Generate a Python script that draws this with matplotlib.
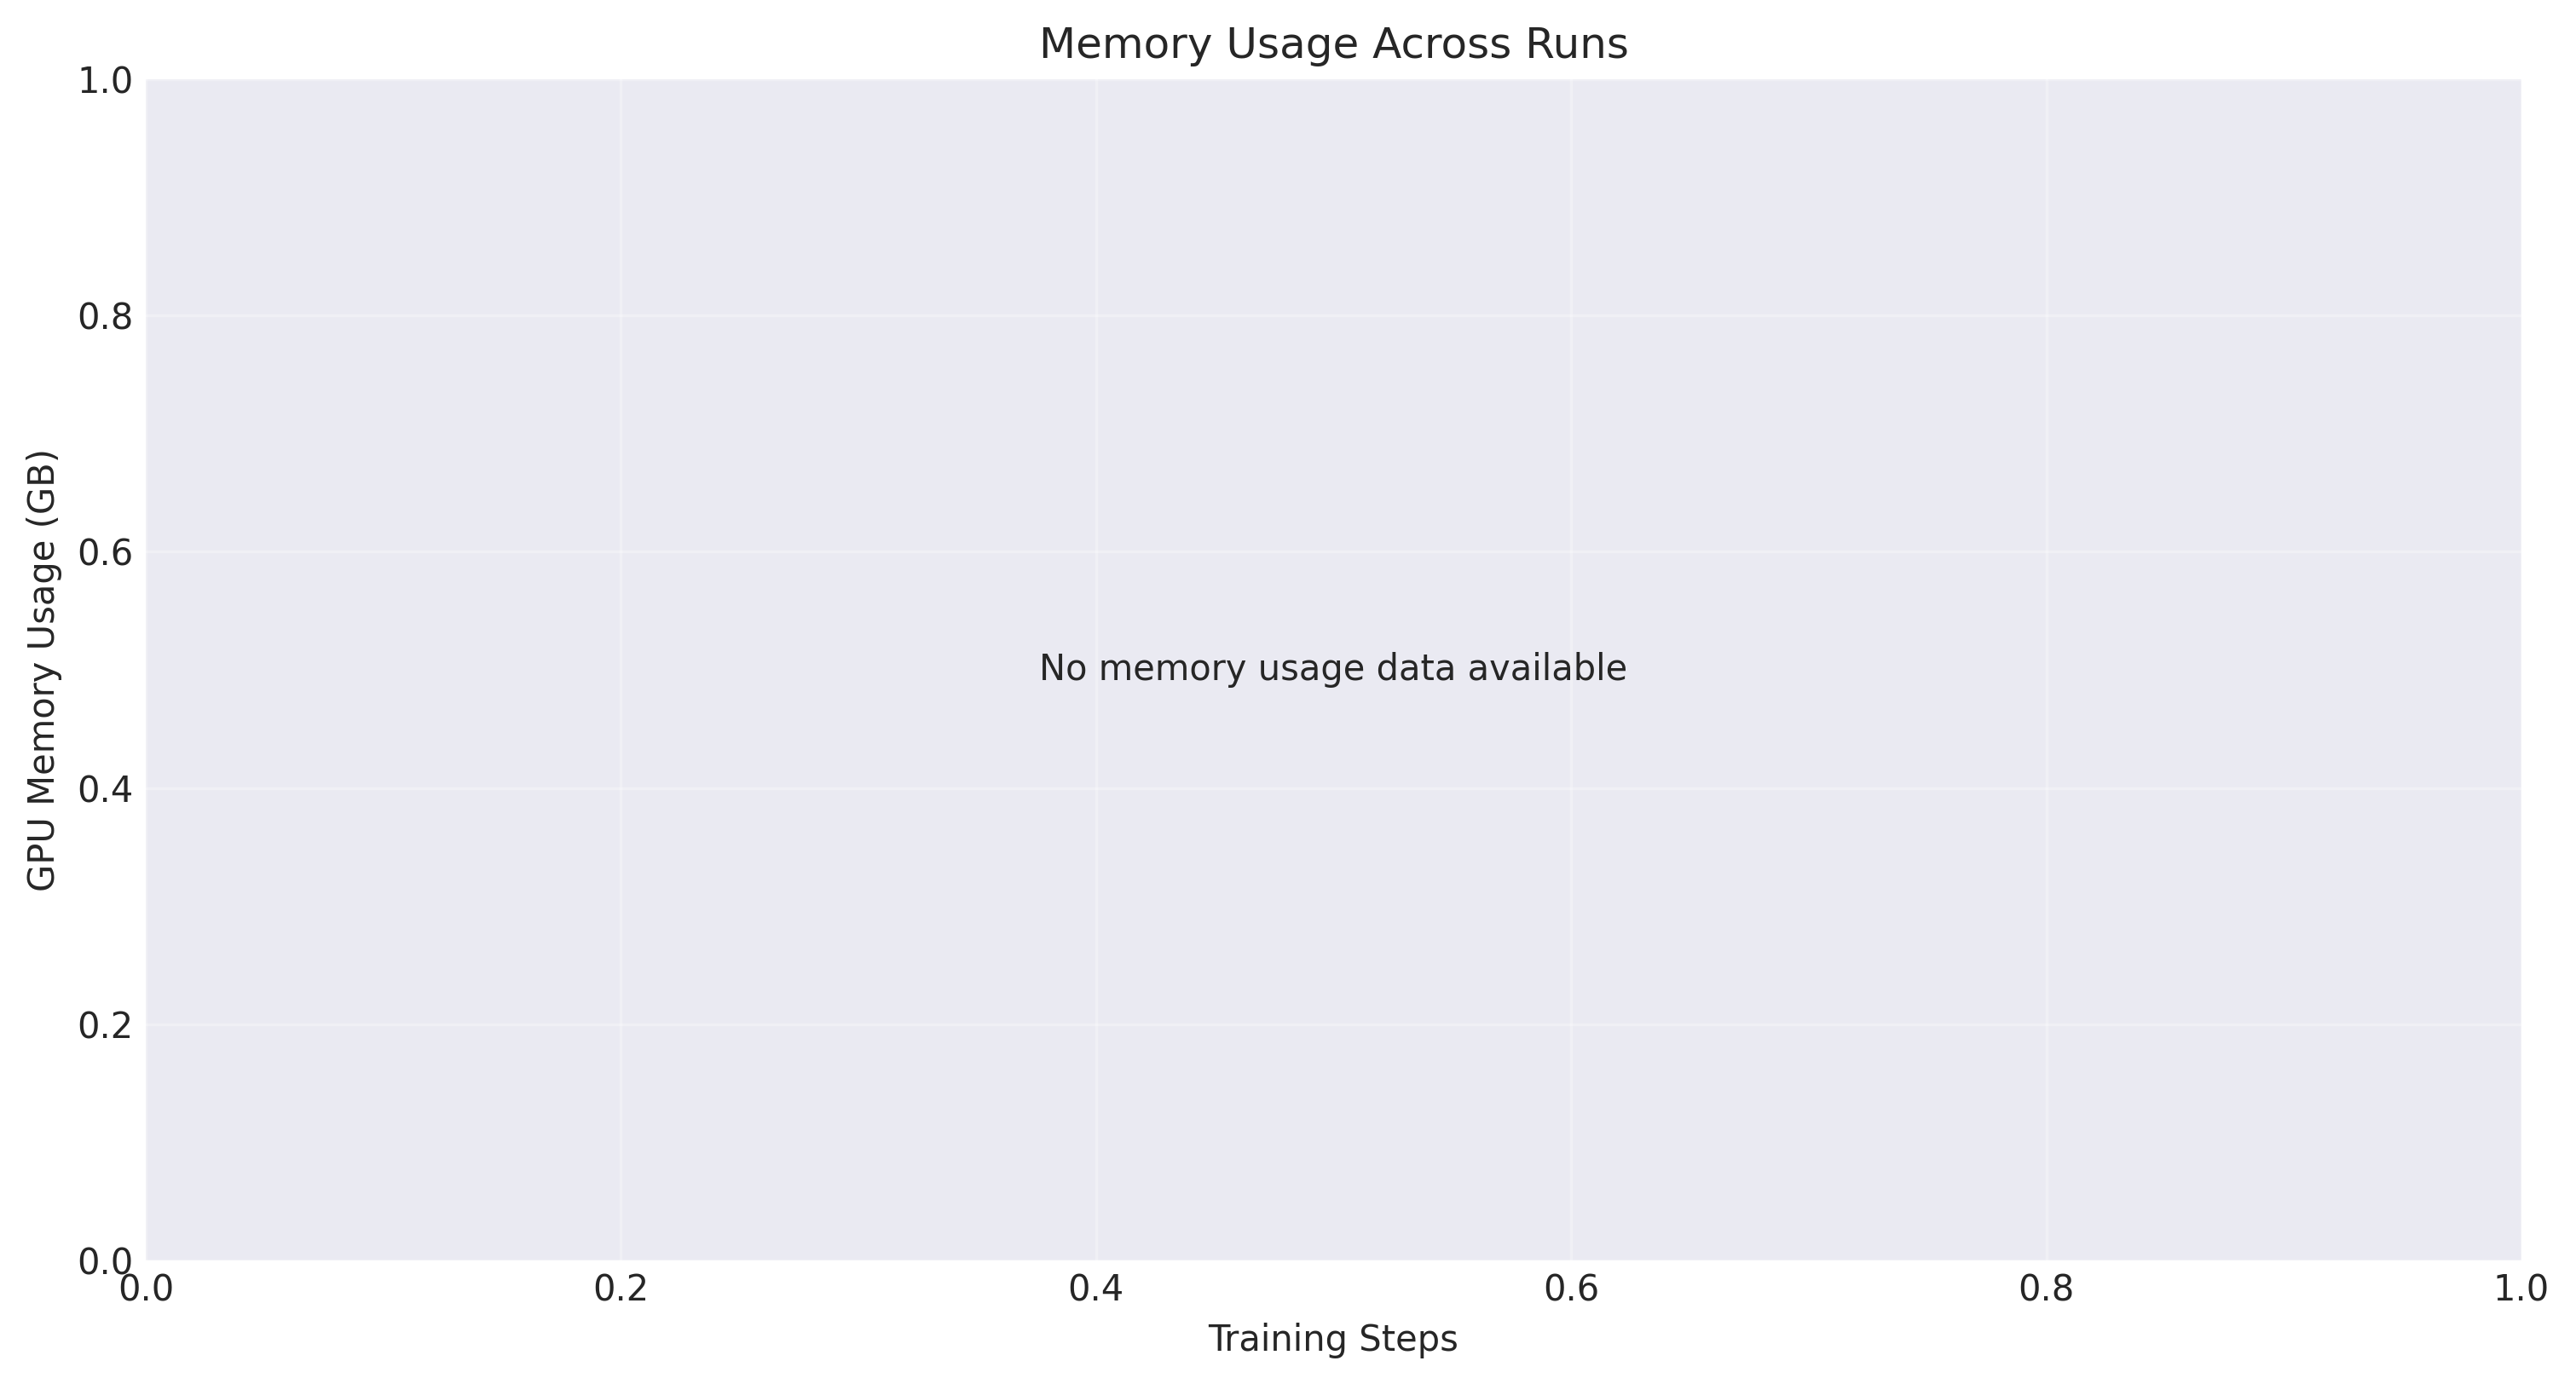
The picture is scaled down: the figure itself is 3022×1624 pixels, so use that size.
import matplotlib
matplotlib.use('Agg')
import matplotlib.pyplot as plt

plt.style.use('seaborn-v0_8-darkgrid')
plt.rcParams['font.family'] = ['DejaVu Sans']

# no runs logged memory, so the chart only carries the notice
steps = []
memory_gb = []
title = 'Memory Usage Across Runs'
x_label = 'Training Steps'
y_label = 'GPU Memory Usage (GB)'
empty_msg = 'No memory usage data available'

fig = plt.figure(figsize=(3022 / 300, 1624 / 300), dpi=300)
ax = fig.add_axes([171 / 3022, 1 - 1479 / 1624, (2958 - 171) / 3022, (1479 - 93) / 1624])

if steps:
    ax.plot(steps, memory_gb)
else:
    ax.text(0.5, 0.5, empty_msg, ha='center', va='center', transform=ax.transAxes, fontsize=10)

ax.set_xlim(0, 1)
ax.set_ylim(0, 1)
ax.set_title(title, fontsize=12)
ax.set_xlabel(x_label, fontsize=10)
ax.set_ylabel(y_label, fontsize=10)
ax.tick_params(labelsize=10)
ax.grid(True, alpha=0.3)

fig.savefig('out.png', dpi=300)
plt.close(fig)
